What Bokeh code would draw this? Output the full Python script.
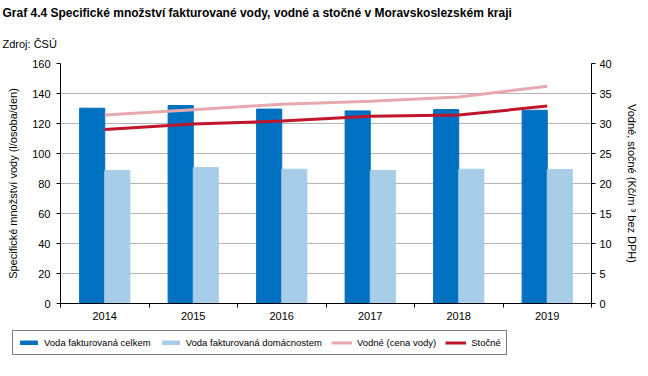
from bokeh.plotting import figure
from bokeh.models import (ColumnDataSource, Range1d, LinearAxis, FixedTicker, Legend,
                          LegendItem, Title)
from bokeh.transform import dodge
from bokeh.embed import file_html
from bokeh.resources import INLINE

years = [2014, 2015, 2016, 2017, 2018, 2019]
voda_celkem = [130.2, 132.0, 129.6, 128.4, 129.3, 128.8]
voda_domacnosti = [88.7, 90.6, 89.5, 88.7, 89.5, 89.3]
vodne = [31.4, 32.3, 33.2, 33.7, 34.4, 36.2]
stocne = [29.0, 29.9, 30.4, 31.2, 31.4, 32.9]

left_ticks = [0, 20, 40, 60, 80, 100, 120, 140, 160]
right_ticks = [0, 5, 10, 15, 20, 25, 30, 35, 40]
labels = ["Voda fakturovaná celkem", "Voda fakturovaná domácnostem",
          "Vodné (cena vody)", "Stočné"]

FONT = "Liberation Sans"
C_DARK, C_LIGHT, C_PINK, C_RED = "#0070C0", "#A7CDE8", "#E8A9AE", "#C0152A"
src = ColumnDataSource(dict(year=years, celkem=voda_celkem, domac=voda_domacnosti,
                            vodne=vodne, stocne=stocne))

p = figure(width=640, height=328, output_backend="svg", toolbar_location=None,
           x_range=Range1d(2013.5, 2019.5), y_range=Range1d(0, 160),
           min_border_left=60, min_border_right=49, min_border_bottom=25, min_border_top=63)
p.outline_line_color = None
p.extra_y_ranges = {"price": Range1d(0, 40)}

p.vbar(x=dodge("year", -0.142, range=p.x_range), top="celkem", width=0.284,
       source=src, color=C_DARK)
p.vbar(x=dodge("year", 0.142, range=p.x_range), top="domac", width=0.284,
       source=src, color=C_LIGHT)
p.line(x="year", y="vodne", source=src, y_range_name="price",
       line_color=C_PINK, line_width=3)
p.line(x="year", y="stocne", source=src, y_range_name="price",
       line_color=C_RED, line_width=3)

# axes
xa = p.xaxis[0]
xa.ticker = FixedTicker(ticks=years, minor_ticks=[y + 0.5 for y in [2013] + years])
xa.major_tick_out = 0
xa.major_tick_in = 0
xa.minor_tick_out = 4
xa.minor_tick_in = 0
xa.minor_tick_line_color = "black"
xa.axis_line_color = "black"
xa.major_label_text_font = FONT
xa.major_label_text_font_size = "11px"
xa.major_label_text_color = "black"
xa.major_label_standoff = 4

ya = p.yaxis[0]
ya.ticker = FixedTicker(ticks=left_ticks)
ya.major_tick_out = 4
ya.major_tick_in = 0
ya.minor_tick_line_color = None
ya.axis_line_color = "black"
ya.major_tick_line_color = "black"
ya.major_label_text_font = FONT
ya.major_label_text_font_size = "11px"
ya.major_label_text_color = "black"
ya.major_label_standoff = 6
ya.axis_label = "Specifické množství vody (l/osoba/den)"
ya.axis_label_text_font = FONT
ya.axis_label_text_font_size = "11px"
ya.axis_label_text_font_style = "normal"
ya.axis_label_text_color = "black"
ya.axis_label_standoff = 10

ra = LinearAxis(y_range_name="price", ticker=FixedTicker(ticks=right_ticks))
ra.major_tick_out = 4
ra.major_tick_in = 0
ra.minor_tick_line_color = None
ra.axis_line_color = "black"
ra.major_tick_line_color = "black"
ra.major_label_text_font = FONT
ra.major_label_text_font_size = "11px"
ra.major_label_text_color = "black"
ra.major_label_standoff = 4
ra.axis_label = "Vodné, stočné (Kč/m ³ bez DPH)"
ra.axis_label_text_font = FONT
ra.axis_label_text_font_size = "11px"
ra.axis_label_text_font_style = "normal"
ra.axis_label_text_color = "black"
ra.axis_label_standoff = 11
p.add_layout(ra, "right")

p.xgrid.visible = False
p.ygrid.ticker = FixedTicker(ticks=left_ticks[1:-1])
p.ygrid.grid_line_color = "#B4B4B4"
p.ygrid.grid_line_width = 1

# titles
t2 = Title(text="Zdroj: ČSÚ", text_font=FONT, text_font_size="11px",
           text_font_style="normal", text_color="black", offset=-58, standoff=28)
p.add_layout(t2, "above")
t1 = Title(text="Graf 4.4 Specifické množství fakturované vody, vodné a stočné v Moravskoslezském kraji",
           text_font=FONT, text_font_size="12px", text_font_style="bold",
           text_color="black", offset=-58, standoff=3)
p.add_layout(t1, "above")

# legend figure (hidden sample renderers, legend only), separate root
lf = figure(width=640, height=32, output_backend="svg", toolbar_location=None,
            x_axis_type=None, y_axis_type=None, x_range=Range1d(0, 1), y_range=Range1d(0, 1),
            min_border=0)
lf.outline_line_color = None
lf.xgrid.visible = False
lf.ygrid.visible = False
l1 = lf.vbar(x="year", top="celkem", width=0.3, source=src, color=C_DARK, visible=False)
l2 = lf.vbar(x="year", top="domac", width=0.3, source=src, color=C_LIGHT, visible=False)
l3 = lf.line(x="year", y="vodne", source=src, line_color=C_PINK, line_width=3, visible=False)
l4 = lf.line(x="year", y="stocne", source=src, line_color=C_RED, line_width=3, visible=False)

legend = Legend(items=[LegendItem(label=lab, renderers=[r])
                       for lab, r in zip(labels, [l1, l2, l3, l4])],
                orientation="horizontal", location=(12, 5))
legend.label_text_font = FONT
legend.label_text_font_size = "9.5px"
legend.label_text_color = "black"
legend.glyph_width = 21
legend.glyph_height = 5
legend.label_standoff = 5
legend.spacing = 9
legend.padding = 5
legend.margin = 0
legend.border_line_color = "black"
legend.border_line_width = 1
legend.label_height = 13
legend.click_policy = "none"
lf.add_layout(legend, "center")

open("out.html", "w").write(file_html([p, lf], INLINE))
